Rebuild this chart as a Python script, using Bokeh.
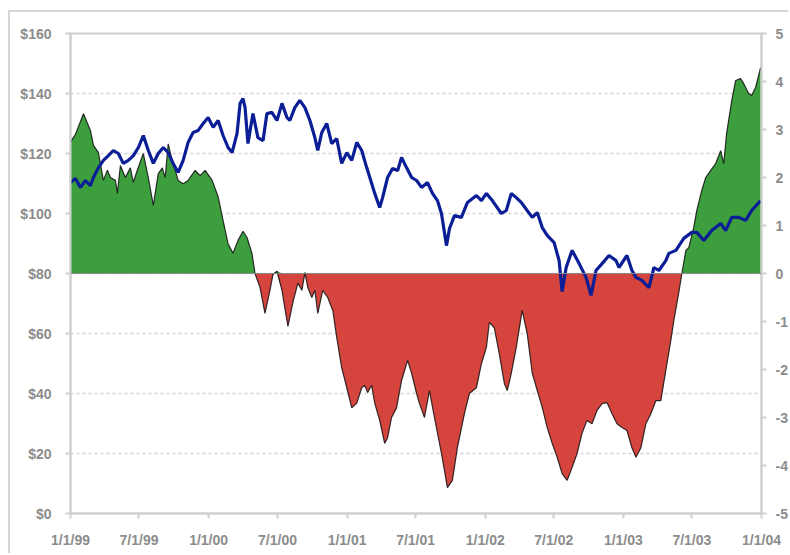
from datetime import datetime, timedelta

from bokeh.embed import file_html
from bokeh.models import FixedTicker, LinearAxis, Range1d, Span
from bokeh.plotting import figure
from bokeh.resources import INLINE

# Time is given in years elapsed since 1/1/99.
spread_t = [
    0.000, 0.036, 0.094, 0.144, 0.166, 0.202, 0.238, 0.267, 0.289, 0.325,
    0.339, 0.361, 0.397, 0.433, 0.455, 0.483, 0.527, 0.563, 0.599, 0.635,
    0.664, 0.685, 0.707, 0.736, 0.779, 0.815, 0.851, 0.902, 0.938, 0.974,
    1.025, 1.068, 1.104, 1.140, 1.176, 1.212, 1.248, 1.277, 1.313, 1.335,
    1.371, 1.407, 1.443, 1.465, 1.494, 1.530, 1.573, 1.609, 1.645, 1.674,
    1.696, 1.717, 1.746, 1.768, 1.789, 1.825, 1.861, 1.898, 1.926, 1.962,
    1.999, 2.035, 2.071, 2.107, 2.128, 2.150, 2.179, 2.201, 2.237, 2.273,
    2.294, 2.323, 2.359, 2.395, 2.417, 2.439, 2.468, 2.504, 2.525, 2.561,
    2.597, 2.633, 2.684, 2.727, 2.763, 2.799, 2.850, 2.886, 2.937, 2.973,
    3.009, 3.030, 3.066, 3.102, 3.139, 3.160, 3.189, 3.225, 3.268, 3.304,
    3.341, 3.377, 3.413, 3.449, 3.485, 3.521, 3.557, 3.593, 3.629, 3.665,
    3.701, 3.737, 3.773, 3.810, 3.846, 3.882, 3.918, 3.954, 3.990, 4.026,
    4.062, 4.091, 4.127, 4.163, 4.199, 4.235, 4.271, 4.307, 4.343, 4.365,
    4.401, 4.423, 4.452, 4.473, 4.509, 4.531, 4.567, 4.596, 4.632, 4.668,
    4.704, 4.726, 4.747, 4.784, 4.812, 4.848, 4.870, 4.906, 4.928, 4.957,
    4.993,
]
spread_v = [
    2.74, 2.90, 3.33, 2.98, 2.67, 2.52, 1.94, 2.15, 2.00, 1.94,
    1.67, 2.25, 2.00, 2.20, 1.90, 2.15, 2.50, 2.00, 1.42, 2.08,
    2.20, 2.00, 2.70, 2.35, 1.94, 1.87, 1.94, 2.15, 2.04, 2.15,
    1.94, 1.60, 1.10, 0.62, 0.42, 0.69, 0.88, 0.75, 0.42, 0.00,
    -0.29, -0.83, -0.35, -0.02, 0.05, -0.35, -1.10, -0.60, -0.20, -0.35,
    0.02, -0.29, -0.50, -0.35, -0.83, -0.35, -0.50, -0.77, -1.33, -1.96,
    -2.38, -2.80, -2.70, -2.38, -2.33, -2.48, -2.33, -2.70, -3.06, -3.54,
    -3.42, -3.00, -2.80, -2.23, -2.02, -1.81, -2.08, -2.50, -2.71, -3.00,
    -2.44, -3.00, -3.75, -4.46, -4.31, -3.63, -2.92, -2.50, -2.38, -1.88,
    -1.54, -1.02, -1.13, -1.67, -2.29, -2.44, -2.08, -1.54, -0.77, -1.25,
    -2.08, -2.44, -2.79, -3.21, -3.54, -3.83, -4.17, -4.31, -4.04, -3.75,
    -3.33, -3.06, -3.13, -2.85, -2.71, -2.69, -2.92, -3.13, -3.21, -3.27,
    -3.63, -3.83, -3.63, -3.13, -2.92, -2.65, -2.65, -2.02, -1.40, -0.98,
    -0.40, 0.00, 0.48, 0.54, 0.96, 1.31, 1.73, 2.00, 2.15, 2.29,
    2.56, 2.29, 2.92, 3.60, 4.02, 4.06, 3.96, 3.75, 3.71, 3.88,
    4.29,
]

price_t = [
    0.000, 0.036, 0.072, 0.108, 0.144, 0.166, 0.202, 0.238, 0.274, 0.310,
    0.346, 0.382, 0.418, 0.455, 0.491, 0.527, 0.563, 0.599, 0.635, 0.671,
    0.707, 0.743, 0.779, 0.815, 0.851, 0.887, 0.924, 0.960, 0.996, 1.032,
    1.068, 1.104, 1.140, 1.169, 1.205, 1.227, 1.248, 1.263, 1.284, 1.320,
    1.356, 1.393, 1.421, 1.457, 1.494, 1.530, 1.566, 1.587, 1.623, 1.659,
    1.696, 1.732, 1.768, 1.789, 1.818, 1.854, 1.890, 1.926, 1.962, 1.999,
    2.035, 2.071, 2.107, 2.143, 2.179, 2.201, 2.237, 2.258, 2.294, 2.330,
    2.367, 2.395, 2.431, 2.468, 2.504, 2.540, 2.583, 2.619, 2.655, 2.684,
    2.720, 2.742, 2.778, 2.828, 2.872, 2.937, 2.973, 3.009, 3.052, 3.117,
    3.153, 3.189, 3.225, 3.261, 3.304, 3.341, 3.377, 3.413, 3.449, 3.499,
    3.535, 3.557, 3.586, 3.629, 3.680, 3.730, 3.766, 3.802, 3.846, 3.896,
    3.947, 3.968, 4.026, 4.062, 4.091, 4.134, 4.185, 4.221, 4.257, 4.307,
    4.329, 4.380, 4.437, 4.495, 4.531, 4.582, 4.639, 4.704, 4.740, 4.784,
    4.834, 4.885, 4.928, 4.993,
]
price_v = [
    110.3, 111.7, 108.7, 111.0, 109.3, 112.0, 115.3, 117.7, 119.3, 121.0,
    120.0, 116.7, 117.7, 119.3, 122.0, 126.0, 121.0, 116.7, 120.0, 122.0,
    120.3, 116.7, 113.7, 117.7, 123.7, 127.0, 127.7, 130.0, 132.0, 128.7,
    131.0, 126.0, 122.0, 120.3, 126.7, 136.7, 138.3, 135.3, 123.3, 133.3,
    125.3, 124.3, 133.3, 133.7, 131.0, 136.7, 132.0, 131.0, 135.3, 137.7,
    135.3, 131.0, 125.3, 121.0, 127.0, 130.0, 123.3, 125.0, 116.7, 120.3,
    117.7, 123.7, 121.0, 115.3, 110.0, 106.7, 102.0, 105.3, 112.0, 115.0,
    114.3, 118.7, 115.3, 112.0, 111.0, 108.7, 110.3, 106.7, 104.3, 100.0,
    89.3, 95.0, 99.3, 98.7, 103.7, 106.0, 104.3, 106.7, 104.3, 100.0,
    101.0, 106.7, 105.3, 103.7, 101.0, 98.7, 100.3, 95.3, 92.7, 90.3,
    84.3, 74.0, 82.0, 87.7, 83.3, 78.7, 72.7, 81.0, 83.3, 86.0,
    84.3, 82.0, 86.0, 81.0, 78.7, 77.7, 75.3, 82.0, 81.0, 84.3,
    86.7, 87.7, 91.7, 93.7, 93.7, 91.0, 94.3, 96.7, 94.3, 98.7,
    98.7, 97.7, 101.0, 104.3,
]

date_labels = ["1/1/99", "7/1/99", "1/1/00", "7/1/00", "1/1/01", "7/1/01",
               "1/1/02", "7/1/02", "1/1/03", "7/1/03", "1/1/04"]
price_ticks = [0, 20, 40, 60, 80, 100, 120, 140, 160]
spread_ticks = [-5, -4, -3, -2, -1, 0, 1, 2, 3, 4, 5]

START = datetime(1999, 1, 1)
EPOCH = datetime(1970, 1, 1)


def to_date(t):
    return START + timedelta(days=t * 365.25)


def to_ms(d):
    return (d - EPOCH).total_seconds() * 1000.0


spread_x = [to_date(t) for t in spread_t]
price_x = [to_date(t) for t in price_t]
pos = [max(v, 0.0) for v in spread_v]
neg = [min(v, 0.0) for v in spread_v]

tick_dates = [datetime.strptime(s, "%m/%d/%y") for s in date_labels]
tick_ms = [to_ms(d) for d in tick_dates]

AXIS_GREY = "#cfcfcf"
LABEL_GREY = "#8c8c8c"
FONT = "Liberation Sans"

p = figure(
    width=780, height=543,
    x_axis_type="datetime",
    x_range=Range1d(tick_dates[0], tick_dates[-1]),
    y_range=Range1d(price_ticks[0], price_ticks[-1]),
    output_backend="svg", toolbar_location=None,
    min_border_left=60, min_border_right=27,
    min_border_top=21, min_border_bottom=42,
    background_fill_color="white", border_fill_color="white",
)
p.styles = {
    "margin-left": "8px", "margin-top": "10px",
    "border-left": "2px solid #d6d6d6", "border-top": "2px solid #d6d6d6",
}
p.extra_y_ranges = {"spread": Range1d(spread_ticks[0], spread_ticks[-1])}

# green / red spread areas around the zero line
p.varea(x=spread_x, y1=pos, y2=0, y_range_name="spread", fill_color="#3d9e3d")
p.varea(x=spread_x, y1=neg, y2=0, y_range_name="spread", fill_color="#d6443e")
p.line(spread_x, spread_v, y_range_name="spread", line_color="#111111",
       line_width=1.2, line_alpha=0.85)
p.add_layout(Span(location=0, dimension="width", y_range_name="spread",
                  line_color="#8a8a8a", line_width=1))

# price line
p.line(price_x, price_v, line_color="#0b1e96", line_width=3.2)

# axes
p.outline_line_color = AXIS_GREY
p.outline_line_width = 2
p.xgrid.visible = False
p.ygrid.ticker = FixedTicker(ticks=price_ticks)
p.ygrid.grid_line_color = "#d2d2d2"
p.ygrid.grid_line_dash = "3 3"
p.ygrid.grid_line_width = 1.5

xa = p.xaxis[0]
xa.ticker = FixedTicker(ticks=tick_ms)
xa.major_label_overrides = {m: s for m, s in zip(tick_ms, date_labels)}
xa.major_label_standoff = 13

ya = p.yaxis[0]
ya.ticker = FixedTicker(ticks=price_ticks)
ya.major_label_overrides = {v: f"${v}" for v in price_ticks}
ya.major_label_standoff = 14

ra = LinearAxis(y_range_name="spread", ticker=FixedTicker(ticks=spread_ticks))
ra.major_label_overrides = {v: str(v) for v in spread_ticks}
ra.major_label_standoff = 9
p.add_layout(ra, "right")

for ax in (xa, ya, ra):
    ax.axis_line_color = AXIS_GREY
    ax.axis_line_width = 2
    ax.major_tick_line_color = AXIS_GREY
    ax.major_tick_line_width = 2
    ax.major_tick_in = 0
    ax.major_tick_out = 5
    ax.minor_tick_line_color = None
    ax.major_label_text_color = LABEL_GREY
    ax.major_label_text_font = FONT
    ax.major_label_text_font_size = "14px"
    ax.major_label_text_font_style = "bold"

open("out.html", "w").write(file_html(p, INLINE))
